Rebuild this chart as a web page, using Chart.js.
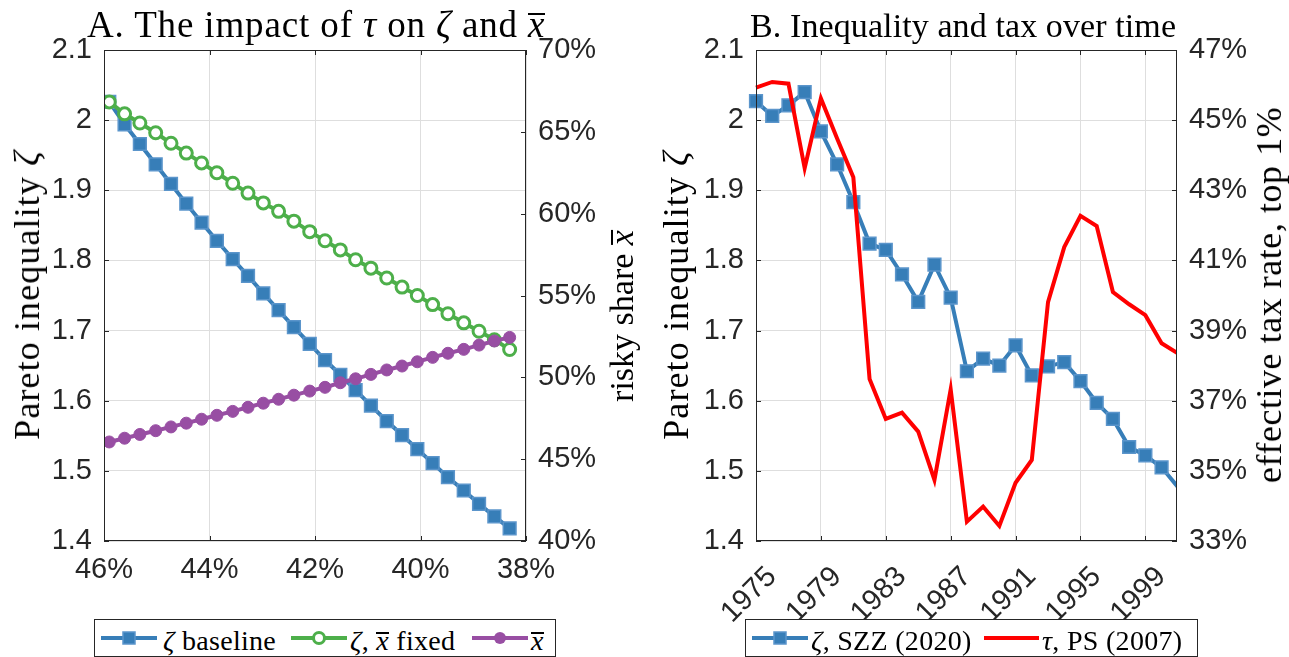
<!DOCTYPE html>
<html>
<head>
<meta charset="utf-8">
<script src="https://cdn.jsdelivr.net/npm/chart.js@4.4.1/dist/chart.umd.min.js"></script>
<style>
  html, body { margin: 0; padding: 0; background: #fff; }
  #page { position: relative; width: 1289px; height: 657px; overflow: hidden; background: #fff; }
  canvas { position: absolute; top: 0; }
  .serif { font-family: 'Liberation Serif', 'Times New Roman', serif; color: #000; white-space: nowrap; position: absolute; line-height: 1; }
  .ttl { top: 8px; }
  .ylab { font-size: 36px; transform: translate(-50%, -50%) rotate(-90deg); }
  .leg { position: absolute; border: 1px solid #262626; background: #fff; box-sizing: border-box; }
  .legtxt { font-size: 28px; letter-spacing: 0.3px; top: 7px; }
  .bar { display: inline-block; border-top: 2px solid #000; line-height: 0.52em; font-style: italic; }
  i { font-style: italic; }
  svg { position: absolute; overflow: visible; }
</style>
</head>
<body>
<div id="page">
  <canvas id="chartA" width="645" height="657" style="left:0"></canvas>
  <canvas id="chartB" width="644" height="657" style="left:645px"></canvas>

  <div class="serif ttl" data-w="458" data-cx="316" style="font-size:37px; top:6px">A. The impact of <i>τ</i> on <i>ζ</i> and <span class="bar">x</span></div>
  <div class="serif ttl" data-w="426" data-cx="963" style="font-size:34px; top:9px">B. Inequality and tax over time</div>

  <div class="serif ylab" data-w="290" style="left:27px; top:295px">Pareto inequality <i>ζ</i></div>
  <div class="serif ylab" style="left:622px; top:316px; font-size:34px">risky share <span class="bar">x</span></div>
  <div class="serif ylab" data-w="290" style="left:676px; top:295px">Pareto inequality <i>ζ</i></div>
  <div class="serif ylab" data-w="376" style="left:1269px; top:295px">effective tax rate, top 1%</div>

  <div class="leg" style="left:94px; top:619px; width:462px; height:38px">
    <svg style="left:6px; top:18px" width="56" height="2">
      <line x1="0" y1="0" x2="56" y2="0" stroke="#377eb8" stroke-width="4"/>
      <rect x="22" y="-6" width="12" height="12" fill="#377eb8" stroke="#5b95cb" stroke-width="1.5"/>
    </svg>
    <div class="serif legtxt" style="left:68px"><i>ζ</i> baseline</div>
    <svg style="left:196px; top:18px" width="56" height="2">
      <line x1="0" y1="0" x2="56" y2="0" stroke="#4daf4a" stroke-width="4"/>
      <circle cx="28" cy="0" r="5.5" fill="#fff" stroke="#4daf4a" stroke-width="3"/>
    </svg>
    <div class="serif legtxt" style="left:255px"><i>ζ</i>, <span class="bar">x</span> fixed</div>
    <svg style="left:377px; top:18px" width="56" height="2">
      <line x1="0" y1="0" x2="56" y2="0" stroke="#984ea3" stroke-width="4"/>
      <circle cx="28" cy="0" r="6" fill="#984ea3"/>
    </svg>
    <div class="serif legtxt" style="left:436px"><span class="bar">x</span></div>
  </div>

  <div class="leg" style="left:745px; top:619px; width:453px; height:38px">
    <svg style="left:6px; top:18px" width="56" height="2">
      <line x1="0" y1="0" x2="56" y2="0" stroke="#377eb8" stroke-width="4"/>
      <rect x="22" y="-6" width="12" height="12" fill="#377eb8" stroke="#5b95cb" stroke-width="1.5"/>
    </svg>
    <div class="serif legtxt" style="left:65px"><i>ζ</i>, SZZ (2020)</div>
    <svg style="left:238px; top:18px" width="55" height="2">
      <line x1="0" y1="0" x2="55" y2="0" stroke="#ff0000" stroke-width="4"/>
    </svg>
    <div class="serif legtxt" style="left:296px"><i>τ</i>, PS (2007)</div>
  </div>
</div>

<script>
// Panel A: top tax rate (x, %) against Pareto inequality and the risky share
const taxRate = [45.90, 45.61, 45.32, 45.02, 44.73, 44.44, 44.15, 43.86, 43.56, 43.27,
                 42.98, 42.69, 42.40, 42.10, 41.81, 41.52, 41.23, 40.94, 40.64, 40.35,
                 40.06, 39.77, 39.48, 39.18, 38.89, 38.60, 38.31];
const zetaBaseline = [2.026, 1.994, 1.966, 1.937, 1.909, 1.881, 1.854, 1.828, 1.802, 1.778,
                      1.753, 1.729, 1.705, 1.681, 1.658, 1.637, 1.615, 1.593, 1.571, 1.551,
                      1.531, 1.511, 1.491, 1.472, 1.453, 1.435, 1.418];
const zetaShareFixed = [2.026, 2.009, 1.996, 1.982, 1.967, 1.953, 1.939, 1.925, 1.910, 1.896,
                        1.882, 1.870, 1.856, 1.841, 1.828, 1.815, 1.801, 1.789, 1.775, 1.762,
                        1.750, 1.737, 1.724, 1.711, 1.699, 1.687, 1.673];
const riskyShare = [46.05, 46.28, 46.51, 46.74, 46.97, 47.20, 47.44, 47.68, 47.92, 48.17,
                    48.42, 48.66, 48.91, 49.16, 49.39, 49.67, 49.91, 50.18, 50.45, 50.69,
                    50.95, 51.22, 51.47, 51.71, 51.97, 52.22, 52.44];
const taxTicks = [46, 44, 42, 40, 38];
const zetaTicks = [1.4, 1.5, 1.6, 1.7, 1.8, 1.9, 2.0, 2.1];
const shareTicks = [40, 45, 50, 55, 60, 65, 70];

// Panel B: inequality and the effective top-1% tax rate, by year
const years = [1975, 1976, 1977, 1978, 1979, 1980, 1981, 1982, 1983, 1984,
               1985, 1986, 1987, 1988, 1989, 1990, 1991, 1992, 1993, 1994,
               1995, 1996, 1997, 1998, 1999, 2000, 2001];
const zetaSZZ = [2.027, 2.006, 2.021, 2.040, 1.984, 1.937, 1.883, 1.824, 1.815, 1.780,
                 1.741, 1.794, 1.747, 1.642, 1.660, 1.650, 1.679, 1.636, 1.649, 1.655,
                 1.628, 1.597, 1.574, 1.534, 1.522, 1.505, 1.477];
const taxPS = [45.93, 46.09, 46.04, 43.63, 45.62, 44.48, 43.37, 37.62, 36.48, 36.66,
               36.12, 34.74, 37.32, 33.55, 33.98, 33.43, 34.66, 35.31, 39.81, 41.38,
               42.27, 41.98, 40.10, 39.75, 39.44, 38.64, 38.35];
const yearTicks = [1975, 1979, 1983, 1987, 1991, 1995, 1999];
const taxTicksB = [33, 35, 37, 39, 41, 43, 45, 47];

// Stretch the serif captions to their set widths via letter spacing
document.querySelectorAll('[data-w]').forEach(el => {
  const n = el.textContent.length;
  const ls = (parseFloat(el.dataset.w) - el.offsetWidth) / n;
  el.style.letterSpacing = ls.toFixed(2) + 'px';
  if (el.dataset.cx) el.style.left = (parseFloat(el.dataset.cx) - el.offsetWidth / 2) + 'px';
});

const AXIS = '#262626';
const GRID = '#dedede';
const tickFont = { family: "'Liberation Sans', Arial, sans-serif", size: 29 };

const pairs = (xs, ys) => xs.map((x, i) => ({ x, y: ys[i] }));
const fixTicks = list => scale => { scale.ticks = list.map(v => ({ value: v })); };
const fixSize = (key, v) => scale => { scale[key] = v; };
const fmtNum = v => String(Math.round(v * 10) / 10);

// Box around the plot area plus short inward tick marks
const frame = {
  id: 'frame',
  afterDraw(chart) {
    const { ctx, chartArea: a } = chart;
    const len = 5;
    ctx.save();
    ctx.strokeStyle = AXIS;
    ctx.lineWidth = 1;
    ctx.beginPath();
    for (const s of Object.values(chart.scales)) {
      s.ticks.forEach((t, i) => {
        const p = Math.round(s.getPixelForTick(i)) + 0.5;
        if (s.isHorizontal()) {
          ctx.moveTo(p, a.bottom); ctx.lineTo(p, a.bottom - len);
          ctx.moveTo(p, a.top); ctx.lineTo(p, a.top + len);
        } else if (s.position === 'left') {
          ctx.moveTo(a.left, p); ctx.lineTo(a.left + len, p);
        } else {
          ctx.moveTo(a.right, p); ctx.lineTo(a.right - len, p);
        }
      });
    }
    ctx.stroke();
    ctx.strokeRect(a.left + 0.5, a.top + 0.5, a.right - a.left - 1, a.bottom - a.top - 1);
    ctx.restore();
  }
};

const common = {
  responsive: false,
  animation: false,
  devicePixelRatio: 1,
  events: [],
  layout: { padding: { top: 50, left: 0, right: 0, bottom: 0 }, autoPadding: false },
  plugins: { legend: { display: false }, tooltip: { enabled: false }, title: { display: false } }
};

function yScale(pos, min, max, list, fmt, width, grid) {
  return {
    type: 'linear', position: pos, min, max,
    afterBuildTicks: fixTicks(list),
    afterFit: fixSize('width', width),
    border: { display: false },
    grid: grid ? { color: GRID, lineWidth: 1, drawTicks: false } : { drawOnChartArea: false, drawTicks: false },
    ticks: { font: tickFont, color: AXIS, padding: 12, autoSkip: false, callback: fmt }
  };
}

new Chart(document.getElementById('chartA'), {
  type: 'line',
  data: {
    datasets: [
      {
        data: pairs(taxRate, zetaBaseline), yAxisID: 'y', order: 3,
        borderColor: '#377eb8', borderWidth: 4,
        pointStyle: 'rect', pointRadius: 9, pointBackgroundColor: '#377eb8',
        pointBorderColor: '#5b95cb', pointBorderWidth: 1.5
      },
      {
        data: pairs(taxRate, zetaShareFixed), yAxisID: 'y', order: 2,
        borderColor: '#4daf4a', borderWidth: 4,
        pointStyle: 'circle', pointRadius: 6, pointBackgroundColor: '#ffffff',
        pointBorderColor: '#4daf4a', pointBorderWidth: 3
      },
      {
        data: pairs(taxRate, riskyShare), yAxisID: 'y2', order: 1,
        borderColor: '#984ea3', borderWidth: 4,
        pointStyle: 'circle', pointRadius: 6, pointBackgroundColor: '#984ea3',
        pointBorderColor: '#984ea3', pointBorderWidth: 1
      }
    ]
  },
  options: Object.assign({}, common, {
    scales: {
      x: {
        type: 'linear', reverse: true, min: 38, max: 46,
        afterBuildTicks: fixTicks(taxTicks),
        afterFit: fixSize('height', 116),
        border: { display: false },
        grid: { color: GRID, lineWidth: 1, drawTicks: false },
        ticks: { font: tickFont, color: AXIS, padding: 12, autoSkip: false, maxRotation: 0, callback: v => v + '%' }
      },
      y: yScale('left', 1.4, 2.1, zetaTicks, fmtNum, 104, true),
      y2: yScale('right', 40, 70, shareTicks, v => v + '%', 119, false)
    }
  }),
  plugins: [frame]
});

const edgeClip = { left: 12, top: 12, right: 0, bottom: 12 };

new Chart(document.getElementById('chartB'), {
  type: 'line',
  data: {
    datasets: [
      {
        data: pairs(years, zetaSZZ), yAxisID: 'y', order: 2, clip: edgeClip,
        borderColor: '#377eb8', borderWidth: 4,
        pointStyle: 'rect', pointRadius: years.map(y => (y > 2000.95 ? 0 : 9)),
        pointBackgroundColor: '#377eb8', pointBorderColor: '#5b95cb', pointBorderWidth: 1.5
      },
      {
        data: pairs(years, taxPS), yAxisID: 'y2', order: 1, clip: edgeClip,
        borderColor: '#ff0000', borderWidth: 4, pointRadius: 0
      }
    ]
  },
  options: Object.assign({}, common, {
    scales: {
      x: {
        type: 'linear', min: 1975, max: 2000.95,
        afterBuildTicks: fixTicks(yearTicks),
        afterFit: fixSize('height', 116),
        border: { display: false },
        grid: { color: GRID, lineWidth: 1, drawTicks: false },
        ticks: { font: tickFont, color: AXIS, padding: 19, autoSkip: false,
                 minRotation: 45, maxRotation: 45, labelOffset: 16, callback: v => String(v) }
      },
      y: yScale('left', 1.4, 2.1, zetaTicks, fmtNum, 111, true),
      y2: yScale('right', 33, 47, taxTicksB, v => v + '%', 112, false)
    }
  }),
  plugins: [frame]
});
</script>
</body>
</html>
